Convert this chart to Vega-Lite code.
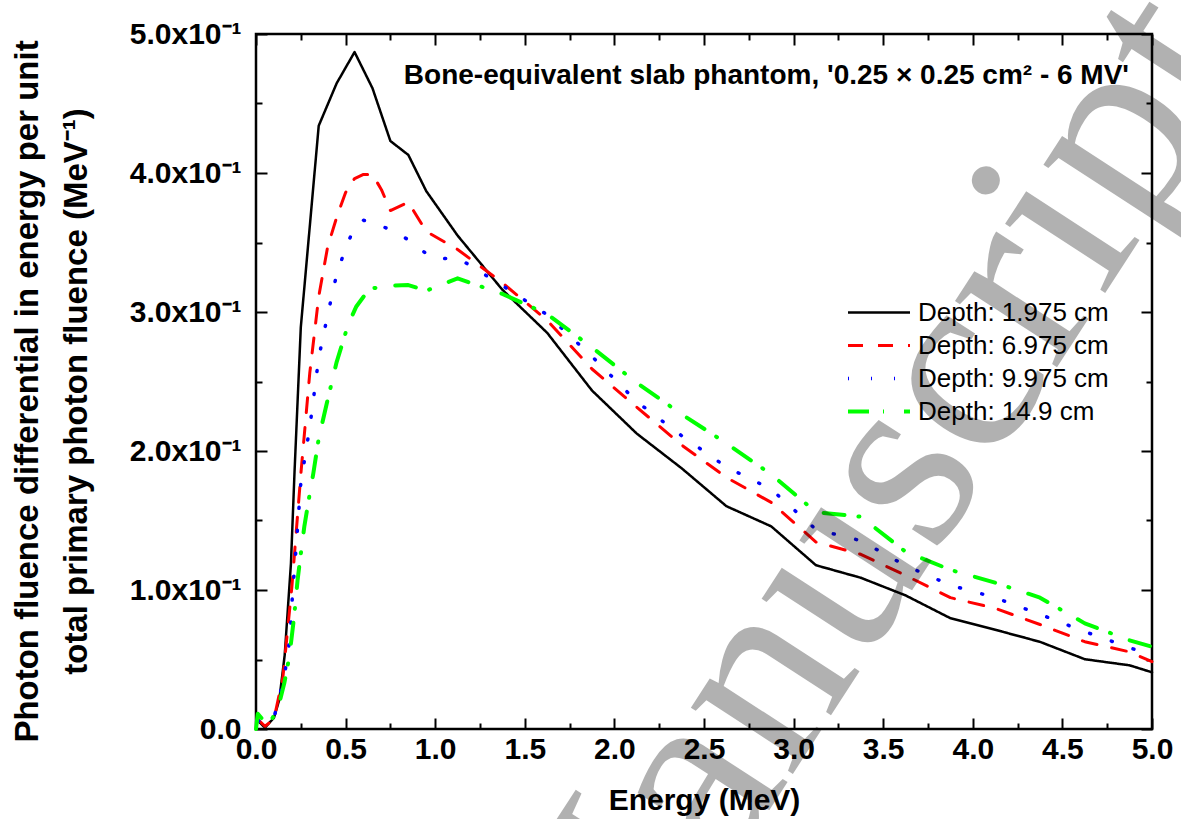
{
  "$schema": "https://vega.github.io/schema/vega-lite/v6.json",
  "width": 896,
  "height": 695,
  "autosize": "none",
  "padding": {"left": 256, "top": 34, "right": 29, "bottom": 90},
  "background": "white",
  "config": {
    "view": {"stroke": "black", "strokeWidth": 2.5},
    "font": "Liberation Sans",
    "axis": {"grid": false, "labelColor": "black", "titleColor": "black", "tickColor": "black", "tickWidth": 2}
  },
  "datasets": {
    "caption": [{"energy": 0.825, "value": 0.464}],
    "watermark": [{"energy": 3.738, "value": 0.115}],
    "curves": [
      {"depth": "Depth: 1.975 cm", "energy": 0.01, "value": 0.006},
      {"depth": "Depth: 1.975 cm", "energy": 0.05, "value": 0.001},
      {"depth": "Depth: 1.975 cm", "energy": 0.1, "value": 0.008},
      {"depth": "Depth: 1.975 cm", "energy": 0.13, "value": 0.021},
      {"depth": "Depth: 1.975 cm", "energy": 0.16, "value": 0.053},
      {"depth": "Depth: 1.975 cm", "energy": 0.195, "value": 0.119},
      {"depth": "Depth: 1.975 cm", "energy": 0.215, "value": 0.185},
      {"depth": "Depth: 1.975 cm", "energy": 0.25, "value": 0.289},
      {"depth": "Depth: 1.975 cm", "energy": 0.35, "value": 0.434},
      {"depth": "Depth: 1.975 cm", "energy": 0.45, "value": 0.4645},
      {"depth": "Depth: 1.975 cm", "energy": 0.55, "value": 0.487},
      {"depth": "Depth: 1.975 cm", "energy": 0.65, "value": 0.461},
      {"depth": "Depth: 1.975 cm", "energy": 0.75, "value": 0.423},
      {"depth": "Depth: 1.975 cm", "energy": 0.85, "value": 0.413},
      {"depth": "Depth: 1.975 cm", "energy": 0.95, "value": 0.387},
      {"depth": "Depth: 1.975 cm", "energy": 1.125, "value": 0.355},
      {"depth": "Depth: 1.975 cm", "energy": 1.375, "value": 0.316},
      {"depth": "Depth: 1.975 cm", "energy": 1.625, "value": 0.285},
      {"depth": "Depth: 1.975 cm", "energy": 1.875, "value": 0.2435},
      {"depth": "Depth: 1.975 cm", "energy": 2.125, "value": 0.2125},
      {"depth": "Depth: 1.975 cm", "energy": 2.375, "value": 0.1876},
      {"depth": "Depth: 1.975 cm", "energy": 2.625, "value": 0.1603},
      {"depth": "Depth: 1.975 cm", "energy": 2.875, "value": 0.1458},
      {"depth": "Depth: 1.975 cm", "energy": 3.125, "value": 0.1178},
      {"depth": "Depth: 1.975 cm", "energy": 3.375, "value": 0.1088},
      {"depth": "Depth: 1.975 cm", "energy": 3.625, "value": 0.0961},
      {"depth": "Depth: 1.975 cm", "energy": 3.875, "value": 0.0797},
      {"depth": "Depth: 1.975 cm", "energy": 4.125, "value": 0.0714},
      {"depth": "Depth: 1.975 cm", "energy": 4.375, "value": 0.0627},
      {"depth": "Depth: 1.975 cm", "energy": 4.625, "value": 0.0502},
      {"depth": "Depth: 1.975 cm", "energy": 4.875, "value": 0.0458},
      {"depth": "Depth: 1.975 cm", "energy": 5.0, "value": 0.0408},

      {"depth": "Depth: 6.975 cm", "energy": 0.01, "value": 0.007},
      {"depth": "Depth: 6.975 cm", "energy": 0.05, "value": 0.002},
      {"depth": "Depth: 6.975 cm", "energy": 0.1, "value": 0.007},
      {"depth": "Depth: 6.975 cm", "energy": 0.15, "value": 0.037},
      {"depth": "Depth: 6.975 cm", "energy": 0.2, "value": 0.102},
      {"depth": "Depth: 6.975 cm", "energy": 0.25, "value": 0.183},
      {"depth": "Depth: 6.975 cm", "energy": 0.3, "value": 0.256},
      {"depth": "Depth: 6.975 cm", "energy": 0.35, "value": 0.311},
      {"depth": "Depth: 6.975 cm", "energy": 0.4, "value": 0.347},
      {"depth": "Depth: 6.975 cm", "energy": 0.45, "value": 0.368},
      {"depth": "Depth: 6.975 cm", "energy": 0.5, "value": 0.386},
      {"depth": "Depth: 6.975 cm", "energy": 0.55, "value": 0.396},
      {"depth": "Depth: 6.975 cm", "energy": 0.6, "value": 0.399},
      {"depth": "Depth: 6.975 cm", "energy": 0.65, "value": 0.399},
      {"depth": "Depth: 6.975 cm", "energy": 0.7, "value": 0.388},
      {"depth": "Depth: 6.975 cm", "energy": 0.75, "value": 0.373},
      {"depth": "Depth: 6.975 cm", "energy": 0.85, "value": 0.379},
      {"depth": "Depth: 6.975 cm", "energy": 0.95, "value": 0.358},
      {"depth": "Depth: 6.975 cm", "energy": 1.125, "value": 0.345},
      {"depth": "Depth: 6.975 cm", "energy": 1.375, "value": 0.321},
      {"depth": "Depth: 6.975 cm", "energy": 1.625, "value": 0.294},
      {"depth": "Depth: 6.975 cm", "energy": 1.875, "value": 0.259},
      {"depth": "Depth: 6.975 cm", "energy": 2.125, "value": 0.2315},
      {"depth": "Depth: 6.975 cm", "energy": 2.375, "value": 0.2043},
      {"depth": "Depth: 6.975 cm", "energy": 2.625, "value": 0.181},
      {"depth": "Depth: 6.975 cm", "energy": 2.875, "value": 0.163},
      {"depth": "Depth: 6.975 cm", "energy": 3.125, "value": 0.1345},
      {"depth": "Depth: 6.975 cm", "energy": 3.375, "value": 0.1257},
      {"depth": "Depth: 6.975 cm", "energy": 3.625, "value": 0.1105},
      {"depth": "Depth: 6.975 cm", "energy": 3.875, "value": 0.0945},
      {"depth": "Depth: 6.975 cm", "energy": 4.125, "value": 0.0868},
      {"depth": "Depth: 6.975 cm", "energy": 4.375, "value": 0.0752},
      {"depth": "Depth: 6.975 cm", "energy": 4.625, "value": 0.0628},
      {"depth": "Depth: 6.975 cm", "energy": 4.875, "value": 0.0555},
      {"depth": "Depth: 6.975 cm", "energy": 5.0, "value": 0.0484},

      {"depth": "Depth: 9.975 cm", "energy": 0.01, "value": 0.006},
      {"depth": "Depth: 9.975 cm", "energy": 0.06, "value": 0.004},
      {"depth": "Depth: 9.975 cm", "energy": 0.1, "value": 0.008},
      {"depth": "Depth: 9.975 cm", "energy": 0.158, "value": 0.0376},
      {"depth": "Depth: 9.975 cm", "energy": 0.19, "value": 0.066},
      {"depth": "Depth: 9.975 cm", "energy": 0.204, "value": 0.0976},
      {"depth": "Depth: 9.975 cm", "energy": 0.223, "value": 0.129},
      {"depth": "Depth: 9.975 cm", "energy": 0.25, "value": 0.177},
      {"depth": "Depth: 9.975 cm", "energy": 0.3, "value": 0.217},
      {"depth": "Depth: 9.975 cm", "energy": 0.35, "value": 0.267},
      {"depth": "Depth: 9.975 cm", "energy": 0.4, "value": 0.298},
      {"depth": "Depth: 9.975 cm", "energy": 0.45, "value": 0.327},
      {"depth": "Depth: 9.975 cm", "energy": 0.5, "value": 0.346},
      {"depth": "Depth: 9.975 cm", "energy": 0.55, "value": 0.361},
      {"depth": "Depth: 9.975 cm", "energy": 0.6, "value": 0.366},
      {"depth": "Depth: 9.975 cm", "energy": 0.65, "value": 0.365},
      {"depth": "Depth: 9.975 cm", "energy": 0.75, "value": 0.359},
      {"depth": "Depth: 9.975 cm", "energy": 0.85, "value": 0.352},
      {"depth": "Depth: 9.975 cm", "energy": 0.95, "value": 0.342},
      {"depth": "Depth: 9.975 cm", "energy": 1.0, "value": 0.338},
      {"depth": "Depth: 9.975 cm", "energy": 1.125, "value": 0.339},
      {"depth": "Depth: 9.975 cm", "energy": 1.375, "value": 0.319},
      {"depth": "Depth: 9.975 cm", "energy": 1.625, "value": 0.298},
      {"depth": "Depth: 9.975 cm", "energy": 1.875, "value": 0.268},
      {"depth": "Depth: 9.975 cm", "energy": 2.125, "value": 0.2355},
      {"depth": "Depth: 9.975 cm", "energy": 2.375, "value": 0.211},
      {"depth": "Depth: 9.975 cm", "energy": 2.625, "value": 0.1885},
      {"depth": "Depth: 9.975 cm", "energy": 2.875, "value": 0.1725},
      {"depth": "Depth: 9.975 cm", "energy": 3.125, "value": 0.1435},
      {"depth": "Depth: 9.975 cm", "energy": 3.375, "value": 0.1355},
      {"depth": "Depth: 9.975 cm", "energy": 3.625, "value": 0.1175},
      {"depth": "Depth: 9.975 cm", "energy": 3.875, "value": 0.1035},
      {"depth": "Depth: 9.975 cm", "energy": 4.125, "value": 0.0945},
      {"depth": "Depth: 9.975 cm", "energy": 4.375, "value": 0.0825},
      {"depth": "Depth: 9.975 cm", "energy": 4.625, "value": 0.07},
      {"depth": "Depth: 9.975 cm", "energy": 4.875, "value": 0.0585},
      {"depth": "Depth: 9.975 cm", "energy": 5.0, "value": 0.053},

      {"depth": "Depth: 14.9 cm", "energy": 0.0, "value": 0.0},
      {"depth": "Depth: 14.9 cm", "energy": 0.01, "value": 0.011},
      {"depth": "Depth: 14.9 cm", "energy": 0.05, "value": 0.005},
      {"depth": "Depth: 14.9 cm", "energy": 0.093, "value": 0.008},
      {"depth": "Depth: 14.9 cm", "energy": 0.13, "value": 0.0185},
      {"depth": "Depth: 14.9 cm", "energy": 0.158, "value": 0.033},
      {"depth": "Depth: 14.9 cm", "energy": 0.186, "value": 0.052},
      {"depth": "Depth: 14.9 cm", "energy": 0.213, "value": 0.081},
      {"depth": "Depth: 14.9 cm", "energy": 0.232, "value": 0.107},
      {"depth": "Depth: 14.9 cm", "energy": 0.25, "value": 0.126},
      {"depth": "Depth: 14.9 cm", "energy": 0.27, "value": 0.146},
      {"depth": "Depth: 14.9 cm", "energy": 0.297, "value": 0.167},
      {"depth": "Depth: 14.9 cm", "energy": 0.32, "value": 0.184},
      {"depth": "Depth: 14.9 cm", "energy": 0.35, "value": 0.209},
      {"depth": "Depth: 14.9 cm", "energy": 0.4, "value": 0.237},
      {"depth": "Depth: 14.9 cm", "energy": 0.45, "value": 0.264},
      {"depth": "Depth: 14.9 cm", "energy": 0.5, "value": 0.285},
      {"depth": "Depth: 14.9 cm", "energy": 0.53, "value": 0.2955},
      {"depth": "Depth: 14.9 cm", "energy": 0.56, "value": 0.304},
      {"depth": "Depth: 14.9 cm", "energy": 0.6, "value": 0.311},
      {"depth": "Depth: 14.9 cm", "energy": 0.65, "value": 0.317},
      {"depth": "Depth: 14.9 cm", "energy": 0.75, "value": 0.319},
      {"depth": "Depth: 14.9 cm", "energy": 0.85, "value": 0.3194},
      {"depth": "Depth: 14.9 cm", "energy": 0.95, "value": 0.3153},
      {"depth": "Depth: 14.9 cm", "energy": 1.125, "value": 0.3242},
      {"depth": "Depth: 14.9 cm", "energy": 1.375, "value": 0.313},
      {"depth": "Depth: 14.9 cm", "energy": 1.625, "value": 0.2985},
      {"depth": "Depth: 14.9 cm", "energy": 1.875, "value": 0.2745},
      {"depth": "Depth: 14.9 cm", "energy": 2.125, "value": 0.249},
      {"depth": "Depth: 14.9 cm", "energy": 2.375, "value": 0.2265},
      {"depth": "Depth: 14.9 cm", "energy": 2.625, "value": 0.2055},
      {"depth": "Depth: 14.9 cm", "energy": 2.875, "value": 0.1832},
      {"depth": "Depth: 14.9 cm", "energy": 3.125, "value": 0.156},
      {"depth": "Depth: 14.9 cm", "energy": 3.375, "value": 0.1527},
      {"depth": "Depth: 14.9 cm", "energy": 3.625, "value": 0.1275},
      {"depth": "Depth: 14.9 cm", "energy": 3.875, "value": 0.1145},
      {"depth": "Depth: 14.9 cm", "energy": 4.125, "value": 0.1053},
      {"depth": "Depth: 14.9 cm", "energy": 4.375, "value": 0.0945},
      {"depth": "Depth: 14.9 cm", "energy": 4.625, "value": 0.076},
      {"depth": "Depth: 14.9 cm", "energy": 4.875, "value": 0.0638},
      {"depth": "Depth: 14.9 cm", "energy": 5.0, "value": 0.0592}
    ]
  },
  "resolve": {"axis": {"x": "independent", "y": "independent"}},
  "layer": [
    {
      "data": {"name": "curves"},
      "mark": {"type": "line", "strokeCap": "round", "strokeJoin": "round"},
      "encoding": {
        "x": {
          "field": "energy", "type": "quantitative",
          "scale": {"domain": [0, 5], "nice": false, "zero": false},
          "axis": {
            "orient": "bottom", "domain": false,
            "values": [0, 0.5, 1, 1.5, 2, 2.5, 3, 3.5, 4, 4.5, 5],
            "format": ".1f", "ticks": false,
            "labelFontSize": 30, "labelFontWeight": "bold", "labelPadding": 5,
            "labelBaseline": "top", "labelFlush": false, "labelOverlap": false,
            "title": "Energy (MeV)", "titleFontSize": 30, "titleFontWeight": "bold",
            "titleY": 80, "titleBaseline": "alphabetic"
          }
        },
        "y": {
          "field": "value", "type": "quantitative",
          "scale": {"domain": [0, 0.5], "nice": false},
          "axis": {
            "orient": "left", "domain": false,
            "values": [0, 0.1, 0.2, 0.3, 0.4, 0.5],
            "ticks": false,
            "labelExpr": "datum.value == 0 ? '0.0' : format(datum.value * 10, '.1f') + 'x10⁻¹'",
            "labelFontSize": 30, "labelFontWeight": "bold", "labelPadding": 15,
            "labelFlush": false, "labelOverlap": false,
            "title": ["Photon fluence differential in energy per unit", "total primary photon fluence (MeV⁻¹)"],
            "titleFontSize": 33, "titleFontWeight": "bold", "titleLineHeight": 49,
            "titleAngle": 270, "titleX": -229, "titleY": 357,
            "titleBaseline": "middle", "titleAlign": "center"
          }
        },
        "color": {
          "field": "depth", "type": "nominal",
          "scale": {"domain": ["Depth: 1.975 cm", "Depth: 6.975 cm", "Depth: 9.975 cm", "Depth: 14.9 cm"], "range": ["#000000", "#ff0000", "#0000ff", "#00ff00"]},
          "legend": {
            "orient": "none", "legendX": 590, "legendY": 263, "title": null,
            "symbolType": "stroke", "symbolSize": 3844, "symbolStrokeWidth": 3.5,
            "clipHeight": 31, "rowPadding": 2, "padding": 0,
            "labelFontSize": 26, "labelOffset": 6, "labelColor": "black", "labelLimit": 0
          }
        },
        "strokeDash": {
          "field": "depth", "type": "nominal",
          "scale": {"domain": ["Depth: 1.975 cm", "Depth: 6.975 cm", "Depth: 9.975 cm", "Depth: 14.9 cm"], "range": [[1, 0], [15, 15], [1, 22], [21, 14, 1, 20]]},
          "legend": {
            "orient": "none", "legendX": 590, "legendY": 263, "title": null,
            "symbolType": "stroke", "symbolSize": 3844, "symbolStrokeWidth": 3.5,
            "clipHeight": 31, "rowPadding": 2, "padding": 0,
            "labelFontSize": 26, "labelOffset": 6, "labelColor": "black", "labelLimit": 0
          }
        },
        "strokeWidth": {
          "field": "depth", "type": "ordinal",
          "scale": {"domain": ["Depth: 1.975 cm", "Depth: 6.975 cm", "Depth: 9.975 cm", "Depth: 14.9 cm"], "range": [2.5, 4, 4, 4]},
          "legend": null
        }
      }
    },
    {
      "data": {"name": "curves"},
      "mark": {"type": "point", "opacity": 0},
      "encoding": {
        "x": {
          "field": "energy", "type": "quantitative",
          "scale": {"domain": [0, 5], "nice": false, "zero": false},
          "axis": {"orient": "bottom", "labels": false, "title": null, "domain": false, "ticks": true, "tickSize": 11, "offset": -11,
            "values": [0, 0.5, 1, 1.5, 2, 2.5, 3, 3.5, 4, 4.5, 5]}
        },
        "y": {
          "field": "value", "type": "quantitative",
          "scale": {"domain": [0, 0.5], "nice": false},
          "axis": {"orient": "left", "labels": false, "title": null, "domain": false, "ticks": true, "tickSize": 11, "offset": -11,
            "values": [0, 0.1, 0.2, 0.3, 0.4, 0.5]}
        }
      }
    },
    {
      "data": {"name": "curves"},
      "mark": {"type": "point", "opacity": 0},
      "encoding": {
        "x": {
          "field": "energy", "type": "quantitative",
          "scale": {"domain": [0, 5], "nice": false, "zero": false},
          "axis": {"orient": "top", "labels": false, "title": null, "domain": false, "ticks": true, "tickSize": 11, "offset": -11,
            "values": [0, 0.5, 1, 1.5, 2, 2.5, 3, 3.5, 4, 4.5, 5]}
        },
        "y": {
          "field": "value", "type": "quantitative",
          "scale": {"domain": [0, 0.5], "nice": false},
          "axis": {"orient": "right", "labels": false, "title": null, "domain": false, "ticks": true, "tickSize": 11, "offset": -11,
            "values": [0, 0.1, 0.2, 0.3, 0.4, 0.5]}
        }
      }
    },
    {
      "data": {"name": "curves"},
      "mark": {"type": "point", "opacity": 0},
      "encoding": {
        "x": {
          "field": "energy", "type": "quantitative",
          "scale": {"domain": [0, 5], "nice": false, "zero": false},
          "axis": {"orient": "bottom", "labels": false, "title": null, "domain": false, "ticks": true, "tickSize": 6, "offset": -6,
            "values": [0.25, 0.75, 1.25, 1.75, 2.25, 2.75, 3.25, 3.75, 4.25, 4.75]}
        },
        "y": {
          "field": "value", "type": "quantitative",
          "scale": {"domain": [0, 0.5], "nice": false},
          "axis": {"orient": "left", "labels": false, "title": null, "domain": false, "ticks": true, "tickSize": 6, "offset": -6,
            "values": [0.05, 0.15, 0.25, 0.35, 0.45]}
        }
      }
    },
    {
      "data": {"name": "curves"},
      "mark": {"type": "point", "opacity": 0},
      "encoding": {
        "x": {
          "field": "energy", "type": "quantitative",
          "scale": {"domain": [0, 5], "nice": false, "zero": false},
          "axis": {"orient": "top", "labels": false, "title": null, "domain": false, "ticks": true, "tickSize": 6, "offset": -6,
            "values": [0.25, 0.75, 1.25, 1.75, 2.25, 2.75, 3.25, 3.75, 4.25, 4.75]}
        },
        "y": {
          "field": "value", "type": "quantitative",
          "scale": {"domain": [0, 0.5], "nice": false},
          "axis": {"orient": "right", "labels": false, "title": null, "domain": false, "ticks": true, "tickSize": 6, "offset": -6,
            "values": [0.05, 0.15, 0.25, 0.35, 0.45]}
        }
      }
    },
    {
      "data": {"name": "caption"},
      "mark": {"type": "text", "text": "Bone-equivalent slab phantom, '0.25 × 0.25 cm² - 6 MV'", "align": "left", "baseline": "alphabetic", "fontSize": 28, "fontWeight": "bold", "font": "Liberation Sans", "color": "black"},
      "encoding": {
        "x": {"field": "energy", "type": "quantitative", "scale": {"domain": [0, 5], "nice": false, "zero": false}, "axis": null},
        "y": {"field": "value", "type": "quantitative", "scale": {"domain": [0, 0.5], "nice": false}, "axis": null}
      }
    },
    {
      "data": {"name": "watermark"},
      "mark": {"type": "text", "text": "Manuscript", "align": "center", "baseline": "alphabetic", "fontSize": 265, "font": "Liberation Serif", "angle": -57, "color": "black", "opacity": 0.3},
      "encoding": {
        "x": {"field": "energy", "type": "quantitative", "scale": {"domain": [0, 5], "nice": false, "zero": false}, "axis": null},
        "y": {"field": "value", "type": "quantitative", "scale": {"domain": [0, 0.5], "nice": false}, "axis": null}
      }
    }
  ]
}
